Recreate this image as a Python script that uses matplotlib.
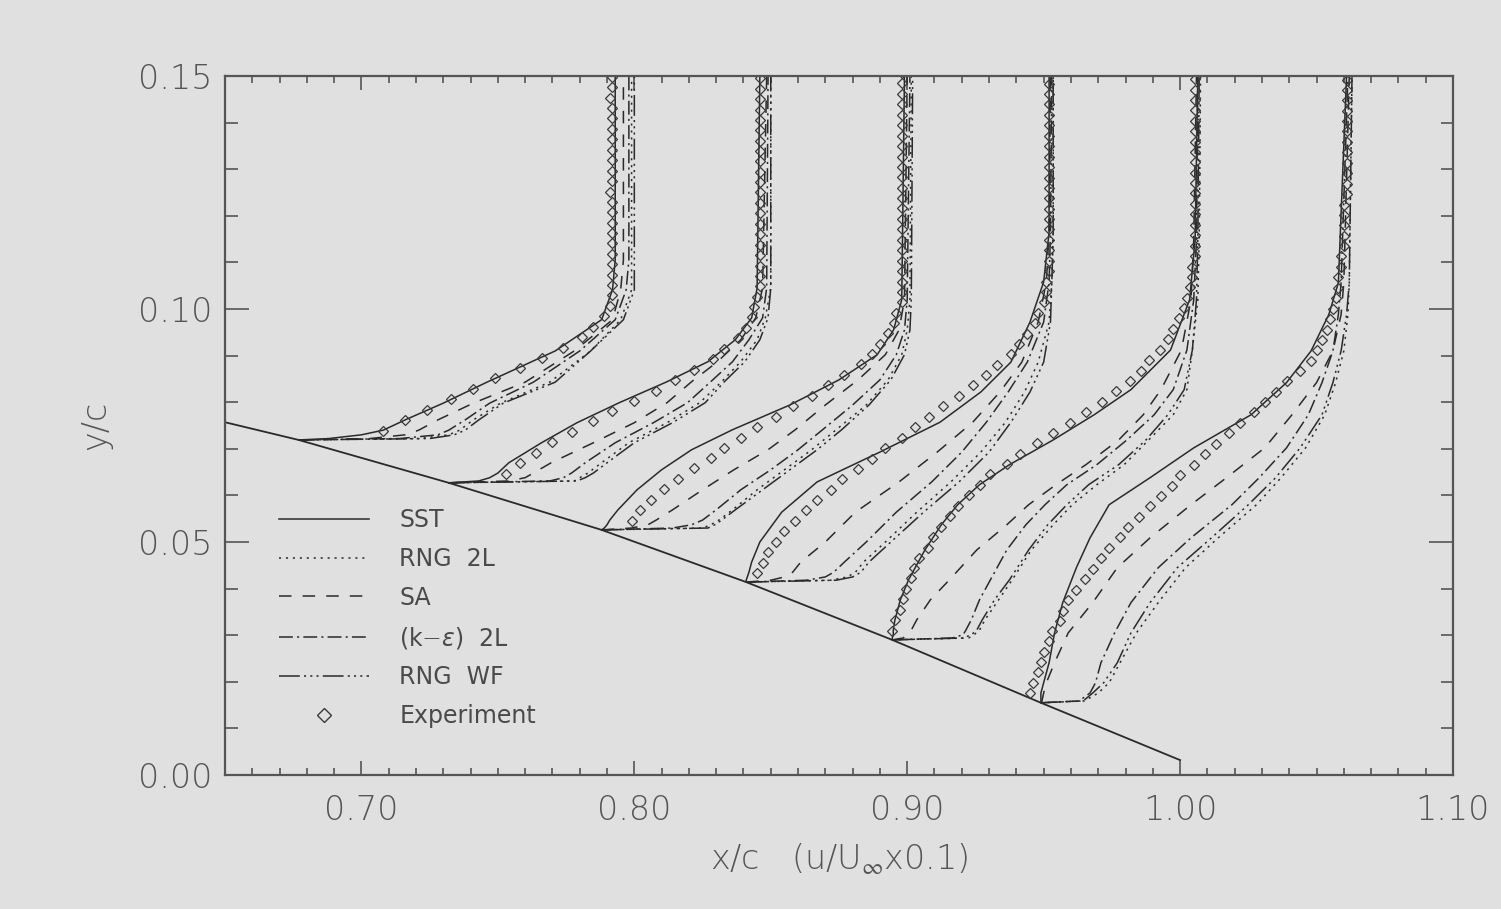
import matplotlib
matplotlib.use('Agg')
import matplotlib.pyplot as plt
from matplotlib.lines import Line2D
from matplotlib.ticker import MultipleLocator, FormatStrFormatter
import numpy as np

plt.rcParams['font.family'] = ['DejaVu Sans']
plt.rcParams['font.weight'] = 'light'
plt.rcParams['mathtext.fontset'] = 'dejavusans'
plt.rcParams['lines.scale_dashes'] = False

# profile stations on the upper surface (wall position, x/c and y/c)
station_x = [0.677, 0.732, 0.788, 0.841, 0.8945, 0.949]
station_y = [0.0719, 0.0627, 0.0526, 0.0414, 0.0290, 0.0155]

# airfoil upper surface near the trailing edge
surface_x = [0.650, 0.677, 0.732, 0.788, 0.841, 0.8945, 0.949, 1.000]
surface_y = [0.0757, 0.0719, 0.0627, 0.0526, 0.0414, 0.0290, 0.0155, 0.0032]

# computed profiles: height above wall (y/c) and u/Uinf for every model
prof_eta = [
    [0, 0.0003, 0.0011, 0.0021, 0.0043, 0.0079, 0.0124, 0.0191, 0.0258, 0.0322, 0.0386, 0.0781],
    [0, 0.0004, 0.0011, 0.0021, 0.0043, 0.0086, 0.0129, 0.0172, 0.0217, 0.0260, 0.0307, 0.0354, 0.0418, 0.0873],
    [0, 0.0004, 0.0011, 0.0021, 0.0043, 0.0086, 0.0129, 0.0172, 0.0215, 0.0268, 0.0322, 0.0376, 0.0429, 0.0494, 0.0974],
    [0, 0.0004, 0.0011, 0.0021, 0.0043, 0.0086, 0.0150, 0.0215, 0.0279, 0.0343, 0.0408, 0.0472, 0.0558, 0.0644, 0.0751, 0.1086],
    [0, 0.0004, 0.0011, 0.0021, 0.0043, 0.0086, 0.0129, 0.0193, 0.0247, 0.0290, 0.0333, 0.0376, 0.0429, 0.0483, 0.0537,
     0.0622, 0.0730, 0.0858, 0.1210],
    [0, 0.0004, 0.0021, 0.0043, 0.0086, 0.0150, 0.0215, 0.0290, 0.0354, 0.0425, 0.0483, 0.0547, 0.0618, 0.0687, 0.0755,
     0.0833, 0.0901, 0.1345],
]

u_sst = [
    [0, 0.11, 0.23, 0.31, 0.39, 0.53, 0.69, 0.94, 1.11, 1.15, 1.16, 1.16],
    [0, 0.11, 0.15, 0.18, 0.22, 0.34, 0.47, 0.625, 0.80, 0.95, 1.05, 1.11, 1.13, 1.14],
    [0, 0.01, 0.02, 0.03, 0.06, 0.13, 0.22, 0.33, 0.48, 0.69, 0.87, 1.01, 1.07, 1.10, 1.11],
    [0, 0, 0.004, 0.01, 0.02, 0.05, 0.13, 0.26, 0.49, 0.71, 0.86, 0.97, 1.04, 1.09, 1.11, 1.11],
    [0, 0, 0.004, 0.004, 0.01, 0.03, 0.06, 0.12, 0.18, 0.24, 0.32, 0.43, 0.59, 0.74, 0.875, 1.02, 1.09, 1.11, 1.12],
    [0, 0, 0, 0.01, 0.03, 0.05, 0.08, 0.13, 0.18, 0.25, 0.40, 0.56, 0.77, 0.90, 0.99, 1.055, 1.09, 1.12],
]

u_rng2l = [
    [0, 0.44, 0.55, 0.59, 0.64, 0.74, 0.92, 1.07, 1.18, 1.22, 1.22, 1.22],
    [0, 0.46, 0.48, 0.51, 0.56, 0.66, 0.80, 0.92, 1.00, 1.07, 1.13, 1.16, 1.18, 1.18],
    [0, 0.37, 0.40, 0.43, 0.48, 0.57, 0.67, 0.77, 0.86, 0.97, 1.05, 1.10, 1.12, 1.13, 1.135],
    [0, 0.31, 0.37, 0.40, 0.43, 0.51, 0.625, 0.75, 0.86, 0.95, 1.02, 1.07, 1.11, 1.12, 1.125, 1.125],
    [0, 0.28, 0.30, 0.32, 0.34, 0.39, 0.44, 0.51, 0.59, 0.66, 0.75, 0.85, 0.94, 1.03, 1.08, 1.10, 1.12, 1.125, 1.13],
    [0, 0.16, 0.21, 0.25, 0.29, 0.35, 0.43, 0.53, 0.65, 0.79, 0.88, 0.97, 1.04, 1.08, 1.11, 1.125, 1.13, 1.14],
]

u_sa = [
    [0, 0.26, 0.39, 0.44, 0.51, 0.64, 0.83, 1.01, 1.15, 1.18, 1.19, 1.19],
    [0, 0.22, 0.28, 0.31, 0.375, 0.53, 0.68, 0.80, 0.89, 0.985, 1.07, 1.125, 1.15, 1.165],
    [0, 0.11, 0.17, 0.20, 0.26, 0.37, 0.485, 0.61, 0.71, 0.82, 0.94, 1.04, 1.09, 1.11, 1.12],
    [0, 0.09, 0.14, 0.17, 0.20, 0.29, 0.40, 0.56, 0.70, 0.83, 0.93, 1.01, 1.07, 1.10, 1.11, 1.115],
    [0, 0.04, 0.055, 0.07, 0.09, 0.14, 0.21, 0.31, 0.42, 0.50, 0.60, 0.71, 0.83, 0.92, 0.985, 1.06, 1.095, 1.105, 1.115],
    [0, 0.004, 0.01, 0.02, 0.05, 0.10, 0.19, 0.28, 0.40, 0.55, 0.68, 0.82, 0.92, 1.01, 1.07, 1.10, 1.11, 1.13],
]

u_ke = [
    [0, 0.37, 0.51, 0.55, 0.61, 0.70, 0.86, 1.03, 1.16, 1.20, 1.21, 1.21],
    [0, 0.37, 0.42, 0.45, 0.50, 0.61, 0.75, 0.875, 0.96, 1.04, 1.10, 1.15, 1.165, 1.17],
    [0, 0.26, 0.33, 0.37, 0.42, 0.51, 0.62, 0.72, 0.81, 0.92, 1.02, 1.08, 1.11, 1.12, 1.13],
    [0, 0.22, 0.29, 0.32, 0.36, 0.44, 0.55, 0.68, 0.79, 0.88, 0.96, 1.03, 1.09, 1.11, 1.115, 1.12],
    [0, 0.22, 0.26, 0.27, 0.29, 0.32, 0.36, 0.42, 0.49, 0.56, 0.64, 0.75, 0.86, 0.96, 1.03, 1.08, 1.105, 1.115, 1.12],
    [0, 0.14, 0.18, 0.20, 0.22, 0.27, 0.33, 0.43, 0.55, 0.70, 0.80, 0.90, 0.98, 1.03, 1.07, 1.09, 1.10, 1.125],
]

u_rngwf = [
    [0, 0.48, 0.57, 0.61, 0.66, 0.75, 0.94, 1.07, 1.19, 1.23, 1.23, 1.23],
    [0, 0.47, 0.50, 0.53, 0.58, 0.68, 0.82, 0.94, 1.01, 1.085, 1.14, 1.17, 1.18, 1.18],
    [0, 0.39, 0.415, 0.44, 0.49, 0.59, 0.69, 0.79, 0.88, 0.98, 1.06, 1.11, 1.13, 1.135, 1.14],
    [0, 0.33, 0.39, 0.42, 0.45, 0.53, 0.65, 0.78, 0.89, 0.97, 1.04, 1.09, 1.115, 1.12, 1.125, 1.125],
    [0, 0.26, 0.29, 0.31, 0.33, 0.375, 0.43, 0.50, 0.57, 0.64, 0.72, 0.83, 0.93, 1.01, 1.07, 1.10, 1.115, 1.12, 1.125],
    [0, 0.155, 0.19, 0.23, 0.28, 0.33, 0.40, 0.50, 0.625, 0.76, 0.86, 0.95, 1.03, 1.07, 1.10, 1.12, 1.13, 1.14],
]

# experiment: measuring heights above wall (y/c) and u/Uinf at each station
exp_eta = [0.0020, 0.0042, 0.0065, 0.0087, 0.0109, 0.0132, 0.0154, 0.0176, 0.0198, 0.0221,
           0.0243, 0.0265, 0.0288, 0.0310, 0.0332, 0.0355, 0.0377, 0.0399, 0.0422, 0.0444,
           0.0466, 0.0489, 0.0511, 0.0533, 0.0556, 0.0578, 0.0600, 0.0623, 0.0645, 0.0667,
           0.0690, 0.0712, 0.0734, 0.0757, 0.0779, 0.0801, 0.0824, 0.0846, 0.0868, 0.0891,
           0.0913, 0.0935, 0.0958, 0.0980, 0.1002, 0.1025, 0.1047, 0.1069, 0.1092, 0.1114,
           0.1136, 0.1159, 0.1181, 0.1203, 0.1226, 0.1248, 0.1270, 0.1293, 0.1315, 0.1337]

exp_u = [
    [0.31, 0.39, 0.47, 0.56, 0.64, 0.72, 0.81, 0.89, 0.97, 1.04,
     1.08, 1.12, 1.14, 1.15, 1.15, 1.15, 1.15, 1.15, 1.15, 1.15,
     1.15, 1.15, 1.15, 1.14, 1.15, 1.15, 1.15, 1.15, 1.15, 1.15,
     1.15, 1.15, 1.14, 1.15, 1.15],
    [0.21, 0.26, 0.32, 0.38, 0.45, 0.53, 0.60, 0.68, 0.76, 0.83,
     0.90, 0.97, 1.01, 1.06, 1.09, 1.11, 1.12, 1.13, 1.14, 1.14,
     1.14, 1.14, 1.14, 1.14, 1.14, 1.14, 1.14, 1.14, 1.14, 1.14,
     1.14, 1.14, 1.14, 1.14, 1.14, 1.14, 1.14, 1.14, 1.14],
    [0.11, 0.14, 0.18, 0.23, 0.28, 0.34, 0.40, 0.45, 0.51, 0.57,
     0.64, 0.70, 0.77, 0.83, 0.89, 0.95, 0.99, 1.02, 1.05, 1.07,
     1.08, 1.10, 1.10, 1.10, 1.10, 1.10, 1.10, 1.10, 1.10, 1.10,
     1.10, 1.10, 1.10, 1.10, 1.10, 1.10, 1.10, 1.10, 1.10, 1.10,
     1.10, 1.10, 1.10, 1.10],
    [0.04, 0.06, 0.08, 0.11, 0.14, 0.18, 0.22, 0.26, 0.31, 0.35,
     0.41, 0.46, 0.51, 0.57, 0.62, 0.67, 0.72, 0.78, 0.83, 0.88,
     0.92, 0.97, 1.00, 1.03, 1.06, 1.07, 1.09, 1.10, 1.10, 1.11,
     1.11, 1.11, 1.11, 1.11, 1.11, 1.11, 1.11, 1.11, 1.11, 1.11,
     1.11, 1.11, 1.11, 1.11, 1.11, 1.11, 1.11, 1.11],
    [-0.00, 0.01, 0.03, 0.04, 0.05, 0.07, 0.08, 0.10, 0.13, 0.15,
     0.18, 0.21, 0.24, 0.28, 0.32, 0.36, 0.42, 0.47, 0.53, 0.59,
     0.65, 0.71, 0.77, 0.82, 0.87, 0.91, 0.94, 0.98, 1.01, 1.03,
     1.05, 1.07, 1.08, 1.09, 1.10, 1.10, 1.11, 1.11, 1.11, 1.11,
     1.11, 1.11, 1.11, 1.11, 1.11, 1.11, 1.11, 1.11, 1.11, 1.11,
     1.11, 1.11, 1.11, 1.11],
    [-0.04, -0.03, -0.01, 0.00, 0.01, 0.03, 0.04, 0.07, 0.08, 0.10,
     0.13, 0.16, 0.19, 0.22, 0.25, 0.29, 0.32, 0.36, 0.40, 0.44,
     0.48, 0.51, 0.56, 0.60, 0.64, 0.69, 0.73, 0.78, 0.82, 0.86,
     0.90, 0.95, 0.99, 1.01, 1.03, 1.05, 1.06, 1.07, 1.08, 1.09,
     1.09, 1.10, 1.10, 1.11, 1.11, 1.11, 1.11, 1.11, 1.12, 1.12,
     1.12, 1.12, 1.12, 1.12, 1.12, 1.12, 1.12, 1.12, 1.12, 1.12],
]

labels = ['SST', 'RNG  2L', 'SA', r'(k$-\epsilon$)  2L', 'RNG  WF', 'Experiment']
models = [u_sst, u_rng2l, u_sa, u_ke, u_rngwf]
styles = ['-', (0, (1.5, 3.5)), (0, (9, 8)), (0, (10, 3, 1.5, 3)),
          (0, (15, 3, 1.5, 3, 1.5, 3, 1.5, 3))]

bg = '#e0e0e0'
ink = '#2a2a2a'
grey = '#555555'

fig = plt.figure(figsize=(15.01, 9.09), dpi=100, facecolor=bg)
ax = fig.add_axes([0.1499, 0.1474, 0.8181, 0.769], facecolor=bg)

ax.plot(surface_x, surface_y, color=ink, lw=1.3)

for i in range(len(station_x)):
    eta = np.array(prof_eta[i])
    for u, ls in zip(models, styles):
        ax.plot(station_x[i] + 0.1 * np.array(u[i]), station_y[i] + eta,
                color=ink, lw=1.1, ls=ls)
    n = len(exp_u[i])
    ax.plot(station_x[i] + 0.1 * np.array(exp_u[i]), station_y[i] + np.array(exp_eta[:n]),
            ls='none', marker='D', ms=5.3, mfc='none', mec='#3a3a3a', mew=0.9)

ax.set_xlim(0.65, 1.10)
ax.set_ylim(0.0, 0.15)
ax.set_xticks([0.70, 0.80, 0.90, 1.00, 1.10])
ax.set_yticks([0.00, 0.05, 0.10, 0.15])
ax.xaxis.set_minor_locator(MultipleLocator(0.01))
ax.yaxis.set_minor_locator(MultipleLocator(0.01))
ax.xaxis.set_major_formatter(FormatStrFormatter('%.2f'))
ax.yaxis.set_major_formatter(FormatStrFormatter('%.2f'))

ax.tick_params(which='both', direction='in', top=True, right=True, color=grey,
               width=1.2, labelcolor=grey, labelsize=24)
ax.tick_params(axis='x', which='major', length=10, pad=14)
ax.tick_params(axis='x', which='minor', length=5)
ax.tick_params(axis='y', which='major', length=17, pad=9)
ax.tick_params(axis='y', which='minor', length=9)
for sp in ax.spines.values():
    sp.set_color(grey)
    sp.set_linewidth(1.6)

ax.set_xlabel(r'x/c   (u/U$_\infty$x0.1)', fontsize=24, color=grey, labelpad=10,
              fontweight='light')
ax.set_ylabel('y/c', fontsize=24, color=grey, labelpad=19, fontweight='light')

handles = [Line2D([], [], color=ink, lw=1.1, ls=ls) for ls in styles]
handles.append(Line2D([], [], ls='none', marker='D', ms=7, mfc='none', mec='#3a3a3a', mew=1))
leg = ax.legend(handles, labels, loc='upper left', bbox_to_anchor=(0.044, 0.382),
                frameon=False, prop={'size': 17, 'weight': 'normal'}, handlelength=3.8,
                handletextpad=1.3, labelspacing=0.63, borderaxespad=0, borderpad=0)
for t in leg.get_texts():
    t.set_color('#4a4a4a')

fig.savefig('out.png', dpi=100, facecolor=bg)
